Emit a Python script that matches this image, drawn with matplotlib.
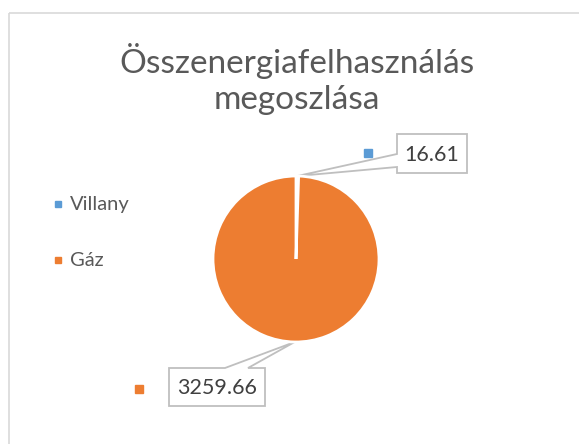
import numpy as np
import matplotlib
matplotlib.use("Agg")
import matplotlib.pyplot as plt
from matplotlib.patches import Polygon, Rectangle

plt.rcParams['font.family'] = ['Lato', 'DejaVu Sans']

title = "Összenergiafelhasználás\nmegoszlása"
labels = ['Villany', 'Gáz']
values = [16.61, 3259.66]
colors = ['#5B9BD5', '#ED7D31']

W, H = 579, 444
fig = plt.figure(figsize=(W / 100, H / 100), dpi=100)

# overlay in pixel coords (y downwards)
ov = fig.add_axes([0, 0, 1, 1])
ov.set_xlim(0, W)
ov.set_ylim(H, 0)
ov.axis('off')
ov.add_patch(Rectangle((8.5, 13.5), 600, 500, fill=False, ec='#D9D9D9', lw=1.2))

# pie
cx, cy, r = 296, 259, 83
pax = fig.add_axes([(cx - r) / W, (H - cy - r) / H, 2 * r / W, 2 * r / H])
pax.pie(values, colors=colors, startangle=90, counterclock=False,
        wedgeprops=dict(edgecolor='white', linewidth=2))
pax.set_xlim(-1, 1)
pax.set_ylim(-1, 1)
pax.set_aspect('auto')

ov.text(W / 2 + 7, 79, title, ha='center', va='center', fontsize=24,
        color='#595959', linespacing=1.25)

# legend
for lab, col, y in zip(labels, colors, [204, 260]):
    ov.plot(58, y, marker='s', ms=5, color=col, ls='none')
    ov.text(70, y, lab, ha='left', va='center', fontsize=14.5, color='#595959')

# data label anchors from slice mid angles
total = sum(values)
ang = 90.0
anchors = []
for v in values:
    span = v / total * 360
    mid = np.radians(ang - span / 2)
    anchors.append((cx + r * np.cos(mid), cy - r * np.sin(mid)))
    ang -= span


def callout(box, tail, anchor, text, col, key):
    x0, y0, x1, y1 = box
    ta, tb = tail[1], tail[2]
    if tail[0] == 'left':
        pts = [(x0, y0), (x1, y0), (x1, y1), (x0, y1), (x0, tb), anchor, (x0, ta)]
    else:
        pts = [(x0, y0), (ta, y0), anchor, (tb, y0), (x1, y0), (x1, y1), (x0, y1)]
    ov.add_patch(Polygon(pts, closed=True, fc='white', ec='#BFBFBF', lw=1.3, zorder=3))
    ov.text((x0 + x1) / 2, (y0 + y1) / 2 + 1, text, ha='center', va='center',
            fontsize=15.5, color='#404040', zorder=4)
    ov.plot(key[0], key[1], marker='s', ms=5.5, color=col, ls='none', zorder=4)


callout((397, 134, 467, 173), ('left', 154, 167), anchors[0],
        f"{values[0]:.2f}", colors[0], (368, 153))
callout((169, 368, 265, 406), ('top', 225, 248), anchors[1],
        f"{values[1]:.2f}", colors[1], (139, 389))

fig.savefig("out.png", dpi=100)
